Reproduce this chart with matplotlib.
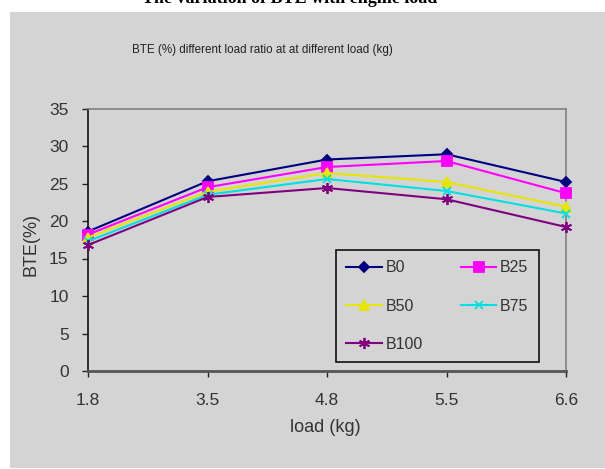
import matplotlib
matplotlib.use("Agg")
import matplotlib.pyplot as plt
from matplotlib.patches import Rectangle

loads = ["1.8", "3.5", "4.8", "5.5", "6.6"]
series_names = ["B0", "B25", "B50", "B75", "B100"]
B0 = [18.6, 25.3, 28.2, 28.9, 25.2]
B25 = [18.2, 24.5, 27.2, 28.0, 23.7]
B50 = [17.8, 23.9, 26.4, 25.2, 21.9]
B75 = [17.3, 23.5, 25.6, 24.0, 21.0]
B100 = [16.8, 23.2, 24.4, 22.9, 19.2]
yticks = [0, 5, 10, 15, 20, 25, 30, 35]

colors = ["#000080", "#ff00ff", "#e6e600", "#00e0e0", "#800080"]
markers = ["D", "s", "^", "x", (6, 2, 0)]
msizes = [5.5, 6.5, 6.5, 6, 8]

W, H = 605, 469
fig = plt.figure(figsize=(W / 100, H / 100), dpi=100)
fig.patch.set_facecolor("white")
bg = "#d4d4d4"
fig.patches.append(Rectangle((10 / W, 1 - 468 / H), (W - 10) / W, (468 - 12) / H,
                             transform=fig.transFigure, facecolor=bg, edgecolor="none", zorder=-5))

fam = ["Liberation Sans", "DejaVu Sans"]
ax_l, ax_r, ax_t, ax_b = 88, 566, 108.5, 371
ax = fig.add_axes([ax_l / W, 1 - ax_b / H, (ax_r - ax_l) / W, (ax_b - ax_t) / H])
ax.set_facecolor(bg)

xs = list(range(len(loads)))
data = [B0, B25, B50, B75, B100]
handles = []
for name, vals, c, m, ms in zip(series_names, data, colors, markers, msizes):
    h, = ax.plot(xs, vals, color=c, marker=m, markersize=ms, linewidth=1.5,
                 markeredgecolor=c, markerfacecolor=c, markeredgewidth=1.3,
                 label=name, clip_on=False, zorder=3)
    handles.append(h)

ax.set_xlim(0, len(loads) - 1)
ax.set_ylim(0, 35)
ax.set_xticks(xs)
ax.set_xticklabels(loads, fontsize=12.5, family=fam, color="#333333")
ax.set_yticks(yticks)
ax.set_yticklabels([str(v) for v in yticks], fontsize=12.5, family=fam, color="#333333")
ax.tick_params(axis="both", direction="out", length=4, width=1, colors="#222222")
ax.tick_params(axis="y", pad=10)
ax.tick_params(axis="x", pad=12)
for lab in ax.get_xticklabels() + ax.get_yticklabels():
    lab.set_color("#333333")

for s in ["top", "right"]:
    ax.spines[s].set_color("#808080")
    ax.spines[s].set_linewidth(1.2)
ax.spines["left"].set_color("#111111")
ax.spines["left"].set_linewidth(1.2)
ax.spines["bottom"].set_color("#555555")
ax.spines["bottom"].set_linewidth(2)

axw, axh = ax_r - ax_l, ax_b - ax_t
ax.set_xlabel("load (kg)", fontsize=13, family=fam, color="#333333", va="center")
ax.xaxis.set_label_coords((325 - ax_l) / axw, (ax_b - 428) / axh)
ax.set_ylabel("BTE(%)", fontsize=13, family=fam, color="#333333", va="center")
ax.yaxis.set_label_coords((31 - ax_l) / axw, (ax_b - 244.5) / axh)

order = [0, 2, 4, 1, 3]
lx0, lx1, ly0, ly1 = 336, 539, 250, 362
leg = ax.legend([handles[i] for i in order], [series_names[i] for i in order],
                ncol=2, loc="upper left",
                bbox_to_anchor=((lx0 - ax_l) / axw, (ax_b - ly1) / axh,
                                (lx1 - lx0) / axw, (ly1 - ly0) / axh),
                mode="expand", frameon=True, fancybox=False, framealpha=1,
                prop={"family": fam, "size": 11.5}, handlelength=2.2, handletextpad=0.25,
                labelspacing=1.45, columnspacing=1.6, borderpad=0.65, borderaxespad=0)
leg.get_frame().set_facecolor(bg)
leg.get_frame().set_edgecolor("#111111")
leg.get_frame().set_linewidth(1.2)
for t in leg.get_texts():
    t.set_color("#333333")

fig.text(262 / W, 1 - 50 / H, "BTE (%) different load ratio at at different load (kg)",
         ha="center", va="center", fontsize=8.4, family=fam, color="#222222")
fig.text(290 / W, 1 - 3 / H, "The variation of BTE with engine load",
         ha="center", va="baseline", fontsize=13, family=["Liberation Serif", "DejaVu Serif"],
         fontweight="bold", color="black")

fig.savefig("out.png", dpi=100, facecolor=fig.get_facecolor())
